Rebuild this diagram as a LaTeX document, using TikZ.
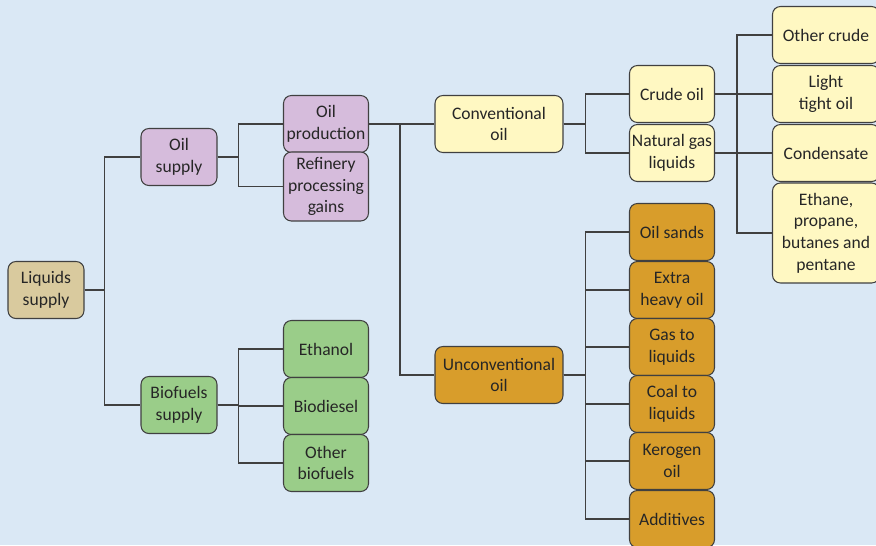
\documentclass[tikz,border=0pt]{standalone}
\usepackage{fontspec}
\setmainfont{Carlito}

\begin{document}
\begin{tikzpicture}[x=0.02cm, y=-0.02cm,
    every node/.style={font=\fontsize{10}{12.4}\selectfont, text=black!85},
    box/.style={draw=black!75, line width=0.6pt, rounded corners=4.5pt, align=center,
                minimum width=1.7cm, minimum height=1.14cm, inner sep=1pt},
    tan/.style={box, fill=tanfill, minimum width=1.52cm},
    lilac/.style={box, fill=lilacfill},
    leaf/.style={box, fill=leaffill},
    cream/.style={box, fill=creamfill},
    amber/.style={box, fill=amberfill},
    link/.style={draw=black!75, line width=0.7pt}]

    \definecolor{bgblue}{HTML}{DAE8F5}
    \definecolor{tanfill}{HTML}{D9CA9E}
    \definecolor{lilacfill}{HTML}{D6BCDC}
    \definecolor{leaffill}{HTML}{9ACD89}
    \definecolor{creamfill}{HTML}{FFF8C2}
    \definecolor{amberfill}{HTML}{D89D2B}

    % background
    \fill[bgblue] (0,0) rectangle (876,545);
    \useasboundingbox (0,0) rectangle (876,545);

    % first levels
    \node[tan] (liquids) at (46,290) {Liquids\\supply};
    \node[lilac, minimum width=1.52cm] (oilsup) at (179,157) {Oil\\supply};
    \node[leaf, minimum width=1.52cm] (biosup) at (179,405) {Biofuels\\supply};

    % oil supply branch
    \node[lilac] (oilprod) at (326,124) {Oil\\production};
    \node[lilac, minimum height=1.38cm] (refinery) at (326,186.5) {Refinery\\processing\\gains};

    % biofuels branch
    \node[leaf] (ethanol) at (326,349) {Ethanol};
    \node[leaf] (biodiesel) at (326,406) {Biodiesel};
    \node[leaf] (otherbio) at (326,463) {Other\\biofuels};

    % conventional / unconventional
    \node[cream, minimum width=2.56cm] (conv) at (499,124) {Conventional\\oil};
    \node[amber, minimum width=2.56cm] (unconv) at (499,375) {Unconventional\\oil};

    % conventional branch
    \node[cream] (crude) at (672,94) {Crude oil};
    \node[cream] (ngl) at (672,153) {Natural gas\\liquids};
    \node[cream, minimum width=2.14cm] (othercrude) at (826,35) {Other crude};
    \node[cream, minimum width=2.14cm] (lto) at (826,94) {Light\\tight oil};
    \node[cream, minimum width=2.14cm] (condensate) at (826,153) {Condensate};
    \node[cream, minimum width=2.14cm, minimum height=2cm] (ethane) at (826,233) {Ethane,\\propane,\\butanes and\\pentane};

    % unconventional branch
    \node[amber] (oilsands) at (672,232) {Oil sands};
    \node[amber] (heavy) at (672,290) {Extra\\heavy oil};
    \node[amber] (gtl) at (672,347) {Gas to\\liquids};
    \node[amber] (ctl) at (672,404) {Coal to\\liquids};
    \node[amber] (kerogen) at (672,461) {Kerogen\\oil};
    \node[amber] (additives) at (672,519) {Additives};

    % connectors
    \foreach \kid in {oilsup, biosup}
        \draw[link] (liquids.east) -- ++(20,0) |- (\kid.west);
    \foreach \kid in {oilprod, refinery}
        \draw[link] (oilsup.east) -- ++(21,0) |- (\kid.west);
    \foreach \kid in {ethanol, biodiesel, otherbio}
        \draw[link] (biosup.east) -- ++(21,0) |- (\kid.west);
    \draw[link] (oilprod.east) -- (conv.west);
    \draw[link] (oilprod.east) -- ++(31,0) |- (unconv.west);
    \foreach \kid in {crude, ngl}
        \draw[link] (conv.east) -- ++(22,0) |- (\kid.west);
    \foreach \kid in {othercrude, lto, condensate}
        \draw[link] (crude.east) -- ++(22,0) |- (\kid.west);
    \foreach \kid in {condensate, ethane}
        \draw[link] (ngl.east) -- ++(22,0) |- (\kid.west);
    \foreach \kid in {oilsands, heavy, gtl, ctl, kerogen, additives}
        \draw[link] (unconv.east) -- ++(22,0) |- (\kid.west);

\end{tikzpicture}
\end{document}
